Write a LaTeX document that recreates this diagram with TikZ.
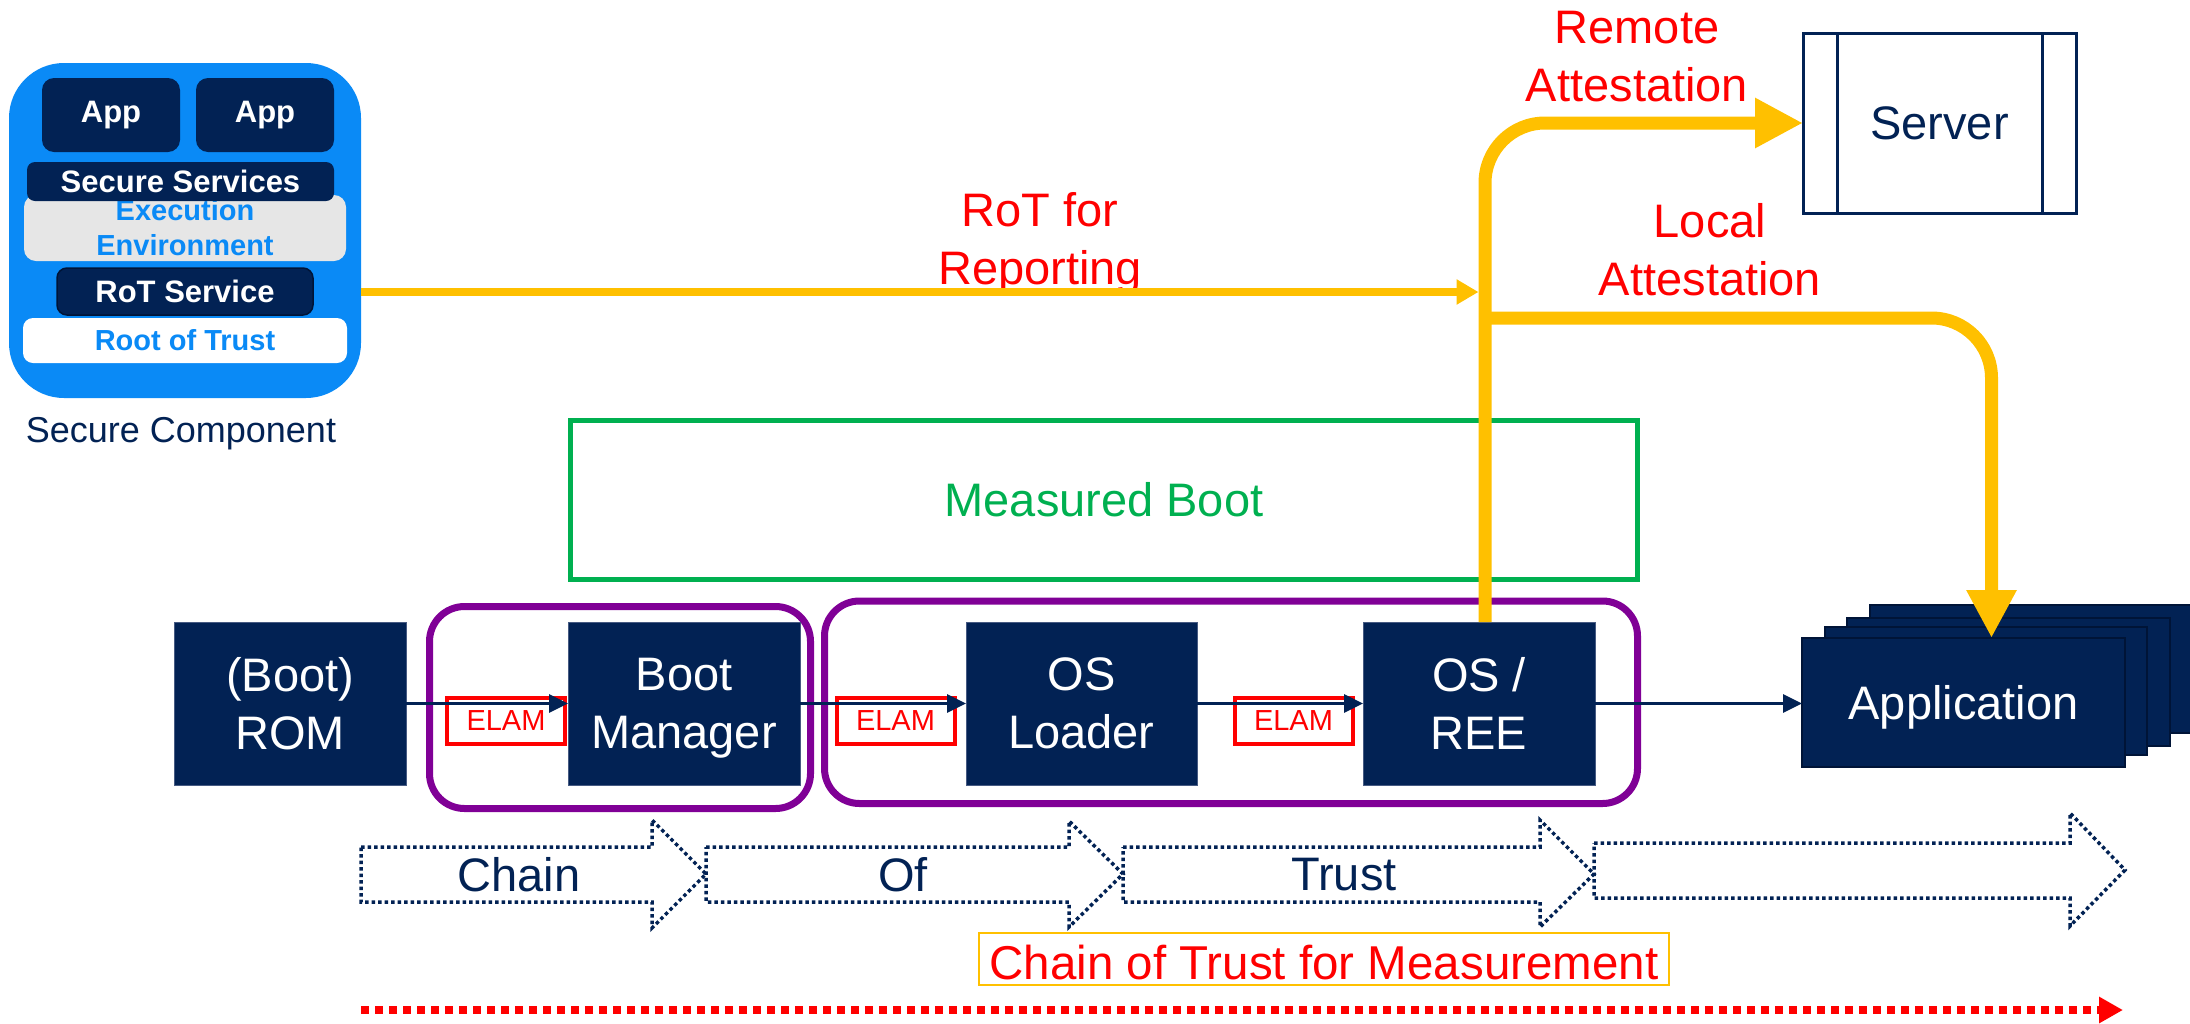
\documentclass[tikz,border=0pt]{standalone}
\usepackage{fontspec}
\setmainfont{Liberation Sans}
\usetikzlibrary{arrows.meta}

\definecolor{navy}{RGB}{2,34,84}
\definecolor{navyedge}{RGB}{70,90,130}
\definecolor{navyline}{RGB}{0,20,55}
\definecolor{scblue}{RGB}{10,138,246}
\definecolor{eegray}{RGB}{230,230,230}
\definecolor{gold}{RGB}{255,192,0}
\definecolor{mbgreen}{RGB}{0,176,80}
\definecolor{grouppurple}{RGB}{128,0,150}
\definecolor{alertred}{RGB}{255,0,0}

\begin{document}
\begin{tikzpicture}[x=1pt, y=-1pt,
  every node/.style={inner sep=0pt, outer sep=0pt},
  fsBig/.style={font=\fontsize{47}{58}\selectfont},
  fsSC/.style={font=\bfseries\fontsize{31}{37}\selectfont},
  fsSCblue/.style={font=\bfseries\fontsize{29}{35}\selectfont},
  stage/.style={fill=navy, draw=navyedge, line width=1pt, text=white, fsBig,
    align=center, minimum width=232pt, minimum height=163pt},
  elambox/.style={draw=alertred, line width=4pt, fill=white, minimum width=118pt,
    minimum height=46pt, text=alertred, font=\fontsize{29}{34}\selectfont},
  stagegroup/.style={draw=grouppurple, line width=7pt, rounded corners=35pt},
  flowarrow/.style={draw=navy, line width=3pt, -{Triangle[length=19pt,width=18pt]}},
  reportarrow/.style={draw=gold, line width=8pt, -{Triangle[length=22pt,width=24pt]}},
  attestarrow/.style={draw=gold, line width=13pt, rounded corners=60pt,
    -{Triangle[length=48pt,width=47pt]}},
  redlabel/.style={text=alertred, fsBig, align=center},
  cotarrow/.style={draw=navy, line width=3.5pt, dash pattern=on 3.5pt off 3pt},
  cotlabel/.style={text=navy, fsBig},
  measurearrow/.style={draw=alertred, line width=8pt, dash pattern=on 8pt off 6pt,
    -{Triangle[length=24pt,width=25pt]}},
  appcard/.style={fill=navy, draw=navyline, line width=2pt}
]
\useasboundingbox (0,0) rectangle (2190,1023);

% ---- Secure component ----
\node[fill=scblue, rounded corners=55pt, minimum width=352pt, minimum height=335pt] (sc) at (185,230.5) {};
\node[fill=navy, rounded corners=12pt, minimum width=138pt, minimum height=74pt, text=white, fsSC] (app1) at (111,115) {App};
\node[fill=navy, rounded corners=12pt, minimum width=138pt, minimum height=74pt, text=white, fsSC] (app2) at (265,115) {App};
\node[fill=eegray, rounded corners=12pt, minimum width=322pt, minimum height=66pt, text=scblue, fsSCblue, align=center] (ee) at (185,228) {Execution\\Environment};
\node[fill=navy, rounded corners=8pt, minimum width=307pt, minimum height=39pt, text=white, fsSC] (ss) at (180.5,181.5) {Secure Services};
\node[fill=navy, draw=navyline, line width=1.5pt, rounded corners=10pt, minimum width=256pt, minimum height=47pt, text=white, fsSC] (rots) at (185,291.5) {RoT Service};
\node[fill=white, rounded corners=10pt, minimum width=324pt, minimum height=45pt, text=scblue, fsSCblue] (rot) at (185,340.5) {Root of Trust};
\node[text=navy, font=\fontsize{36}{43}\selectfont, anchor=base] (sclabel) at (181,442) {Secure Component};

% ---- Measured boot and stage groups ----
\node[draw=mbgreen, line width=5pt, minimum width=1067pt, minimum height=159pt, text=mbgreen, fsBig] (mb) at (1104,500) {Measured Boot};
\node[stagegroup, minimum width=381pt, minimum height=202pt] (grp1) at (620,707.5) {};
\node[stagegroup, minimum width=813pt, minimum height=202.5pt] (grp2) at (1231,702.25) {};

% ---- ELAM markers ----
\node[elambox] (elam1) at (506,721) {ELAM};
\node[elambox] (elam2) at (895.5,721) {ELAM};
\node[elambox] (elam3) at (1293.5,721) {ELAM};

% ---- Boot stages ----
\node[stage] (rom) at (290,703.5) {(Boot)\\ROM};
\node[stage] (bm) at (684,703.5) {Boot\\\smash{Manager}};
\node[stage, minimum width=231pt] (osl) at (1081.5,703.5) {OS\\Loader};
\node[stage] (osree) at (1479,703.5) {OS /\\REE};

% ---- Application stack ----
\path[appcard] (1870,605) rectangle (2193,733);
\path[appcard] (1847,618) rectangle (2170,746);
\path[appcard] (1825,627) rectangle (2147,755);
\node[appcard, text=white, fsBig, minimum width=323pt, minimum height=129pt, text height=34pt, text depth=0pt] (app) at (1963.5,702.5) {Application};

% ---- Server ----
\node[draw=navy, line width=3pt, fill=white, minimum width=273pt, minimum height=180pt, text=navy, font=\fontsize{47}{56}\selectfont] (server) at (1939.5,123) {Server};
\draw[navy, line width=3pt] ([xshift=34pt]server.north west) -- ([xshift=34pt]server.south west);
\draw[navy, line width=3pt] ([xshift=-34pt]server.north east) -- ([xshift=-34pt]server.south east);

% ---- Boot flow ----
\draw[flowarrow] (rom) -- (bm);
\draw[flowarrow] (bm) -- (osl);
\draw[flowarrow] (osl) -- (osree);
\draw[flowarrow] (osree.east) -- (osree.east -| app.west);

% ---- Reporting and attestation paths ----
\node[redlabel] (rotrep) at (1040,243) {RoT for\\Reporting};
\node[redlabel] (remote) at (1637,57) {Remote\\Attestation};
\node[redlabel] (local) at (1710,250) {Local\\Attestation};

\coordinate (tap) at (1478.5,292);
\draw[reportarrow] (sc.east |- tap) -- (tap);
\draw[attestarrow] ([xshift=6pt]osree.north) |- (server.west);
\coordinate (split) at (1485,318);
\draw[attestarrow] (split) -| ([xshift=28pt]app.north);

% ---- Chain of trust ----
\draw[cotarrow] (361,847) -- (652,847) -- (652,820) -- (706,874) -- (652,928) -- (652,902) -- (361,902) -- cycle;
\draw[cotarrow] (706,847) -- (1069,847) -- (1069,821) -- (1123,874) -- (1069,927) -- (1069,902) -- (706,902) -- cycle;
\draw[cotarrow] (1123,847) -- (1540,847) -- (1540,820) -- (1594,874) -- (1540,927) -- (1540,902) -- (1123,902) -- cycle;
\draw[cotarrow] (1594,843) -- (2070,843) -- (2070,813) -- (2125,870) -- (2070,926) -- (2070,898) -- (1594,898) -- cycle;
\node[cotlabel] (lchain) at (519,875) {Chain};
\node[cotlabel] (lof) at (903,875) {Of};
\node[cotlabel] (ltrust) at (1344,875) {Trust};

\node[draw=gold, line width=2pt, minimum width=690pt, minimum height=52pt, text=alertred, font=\fontsize{47.5}{57}\selectfont, text height=40pt, text depth=0pt] (cotm) at (1324,959) {Chain of Trust for Measurement};
\coordinate (mstart) at (361,1010);
\coordinate (mend) at (2123,1010);
\draw[measurearrow] (mstart) -- (mend);
\end{tikzpicture}
\end{document}
